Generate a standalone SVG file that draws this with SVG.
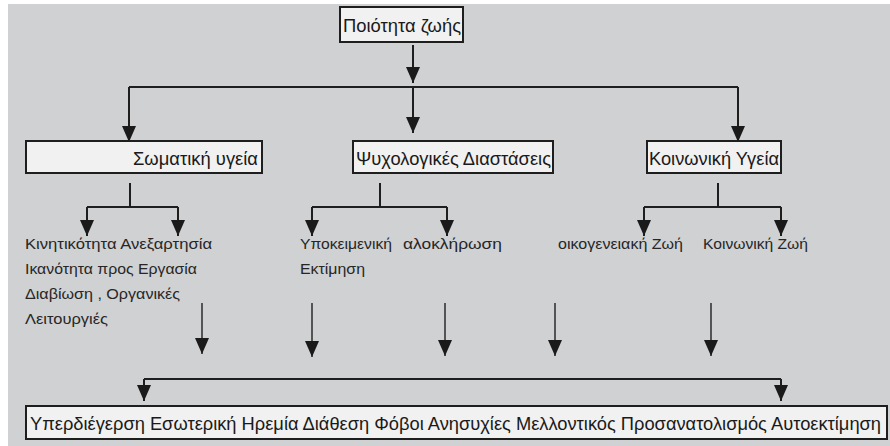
<svg xmlns="http://www.w3.org/2000/svg" width="890" height="446" viewBox="0 0 890 446">
<style>
.bg{fill:#d0d1d3}
.box{fill:#f1f1f1;stroke:#1e1e1e;stroke-width:2}
.lbl{font-family:"Liberation Sans Narrow","Liberation Sans","DejaVu Sans",sans-serif;fill:#1a1a1a}
.big{font-size:19px}
.bot{font-size:18.5px}
.sm{font-size:14.5px;fill:#262626}
.ln{fill:none;stroke:#1e1e1e;stroke-width:2}
.thin{fill:none;stroke:#2a2a2a;stroke-width:1.5}
</style>
<defs>
<marker id="ah" markerUnits="userSpaceOnUse" markerWidth="16" markerHeight="14" refX="16" refY="7" orient="auto">
<path d="M0,0 L16,7 L0,14 z" fill="#1a1a1a"/>
</marker>
</defs>
<rect x="0" y="0" width="890" height="446" fill="#ffffff"/>
<rect class="bg" x="8" y="4" width="882" height="442"/>

<g id="connectors">
<path class="ln" d="M413,45 V83" marker-end="url(#ah)"/>
<path class="ln" d="M413,87 V133" marker-end="url(#ah)"/>
<path class="ln" d="M129,87 H738"/>
<path class="ln" d="M129,87 V142" marker-end="url(#ah)"/>
<path class="ln" d="M738,87 V142" marker-end="url(#ah)"/>

<path class="ln" d="M130,183 V207 M87,207 H178"/>
<path class="ln" d="M87,207 V236" marker-end="url(#ah)"/>
<path class="ln" d="M178,207 V236" marker-end="url(#ah)"/>

<path class="ln" d="M380,183 V207 M312,207 H447"/>
<path class="ln" d="M312,207 V236" marker-end="url(#ah)"/>
<path class="ln" d="M447,207 V236" marker-end="url(#ah)"/>

<path class="ln" d="M718,183 V207 M644,207 H781"/>
<path class="ln" d="M644,207 V236" marker-end="url(#ah)"/>
<path class="ln" d="M781,207 V236" marker-end="url(#ah)"/>

<path class="thin" d="M202,303 V354" marker-end="url(#ah)"/>
<path class="thin" d="M312,303 V357" marker-end="url(#ah)"/>
<path class="thin" d="M445,303 V356" marker-end="url(#ah)"/>
<path class="thin" d="M555,303 V356" marker-end="url(#ah)"/>
<path class="thin" d="M711,303 V356" marker-end="url(#ah)"/>

<path class="ln" d="M144,379 H781"/>
<path class="ln" d="M144,379 V401" marker-end="url(#ah)"/>
<path class="ln" d="M781,379 V401" marker-end="url(#ah)"/>
</g>

<g id="n-title">
<rect class="box" x="340" y="7" width="123" height="35"/>
<text class="lbl big" x="343" y="32" textLength="118" lengthAdjust="spacingAndGlyphs">Ποιότητα ζωής</text>
</g>

<g id="n-somatiki">
<rect class="box" x="26" y="141" width="236" height="32"/>
<text class="lbl big" x="133" y="165" textLength="125" lengthAdjust="spacingAndGlyphs">Σωματική υγεία</text>
</g>

<g id="n-psych">
<rect class="box" x="353" y="141" width="200" height="32"/>
<text class="lbl big" x="356" y="165" textLength="195" lengthAdjust="spacingAndGlyphs">Ψυχολογικές Διαστάσεις</text>
</g>

<g id="n-koin">
<rect class="box" x="647" y="141" width="134" height="32"/>
<text class="lbl big" x="649" y="165" textLength="130" lengthAdjust="spacingAndGlyphs">Κοινωνική Υγεία</text>
</g>

<g id="n-som-items">
<text class="lbl sm" x="25" y="249" textLength="187" lengthAdjust="spacingAndGlyphs">Κινητικότητα Ανεξαρτησία</text>
<text class="lbl sm" x="25" y="274" textLength="172" lengthAdjust="spacingAndGlyphs">Ικανότητα προς Εργασία</text>
<text class="lbl sm" x="25" y="299" textLength="155" lengthAdjust="spacingAndGlyphs">Διαβίωση , Οργανικές</text>
<text class="lbl sm" x="25" y="324" textLength="83" lengthAdjust="spacingAndGlyphs">Λειτουργιές</text>
</g>

<g id="n-ypok">
<text class="lbl sm" x="300" y="249" textLength="92" lengthAdjust="spacingAndGlyphs">Υποκειμενική</text>
<text class="lbl sm" x="300" y="274" textLength="65" lengthAdjust="spacingAndGlyphs">Εκτίμηση</text>
</g>

<g id="n-olok">
<text class="lbl sm" x="403" y="249" textLength="99" lengthAdjust="spacingAndGlyphs">αλοκλήρωση</text>
</g>

<g id="n-oikog">
<text class="lbl sm" x="558" y="249" textLength="125" lengthAdjust="spacingAndGlyphs">οικογενειακή Ζωή</text>
</g>

<g id="n-koinzoi">
<text class="lbl sm" x="703" y="249" textLength="105" lengthAdjust="spacingAndGlyphs">Κοινωνική Ζωή</text>
</g>

<g id="n-bottom">
<rect class="box" x="26" y="406" width="861" height="33"/>
<text class="lbl bot" x="30" y="430" textLength="851" lengthAdjust="spacingAndGlyphs">Υπερδιέγερση Εσωτερική  Ηρεμία Διάθεση Φόβοι Ανησυχίες Μελλοντικός Προσανατολισμός Αυτοεκτίμηση</text>
</g>
</svg>
